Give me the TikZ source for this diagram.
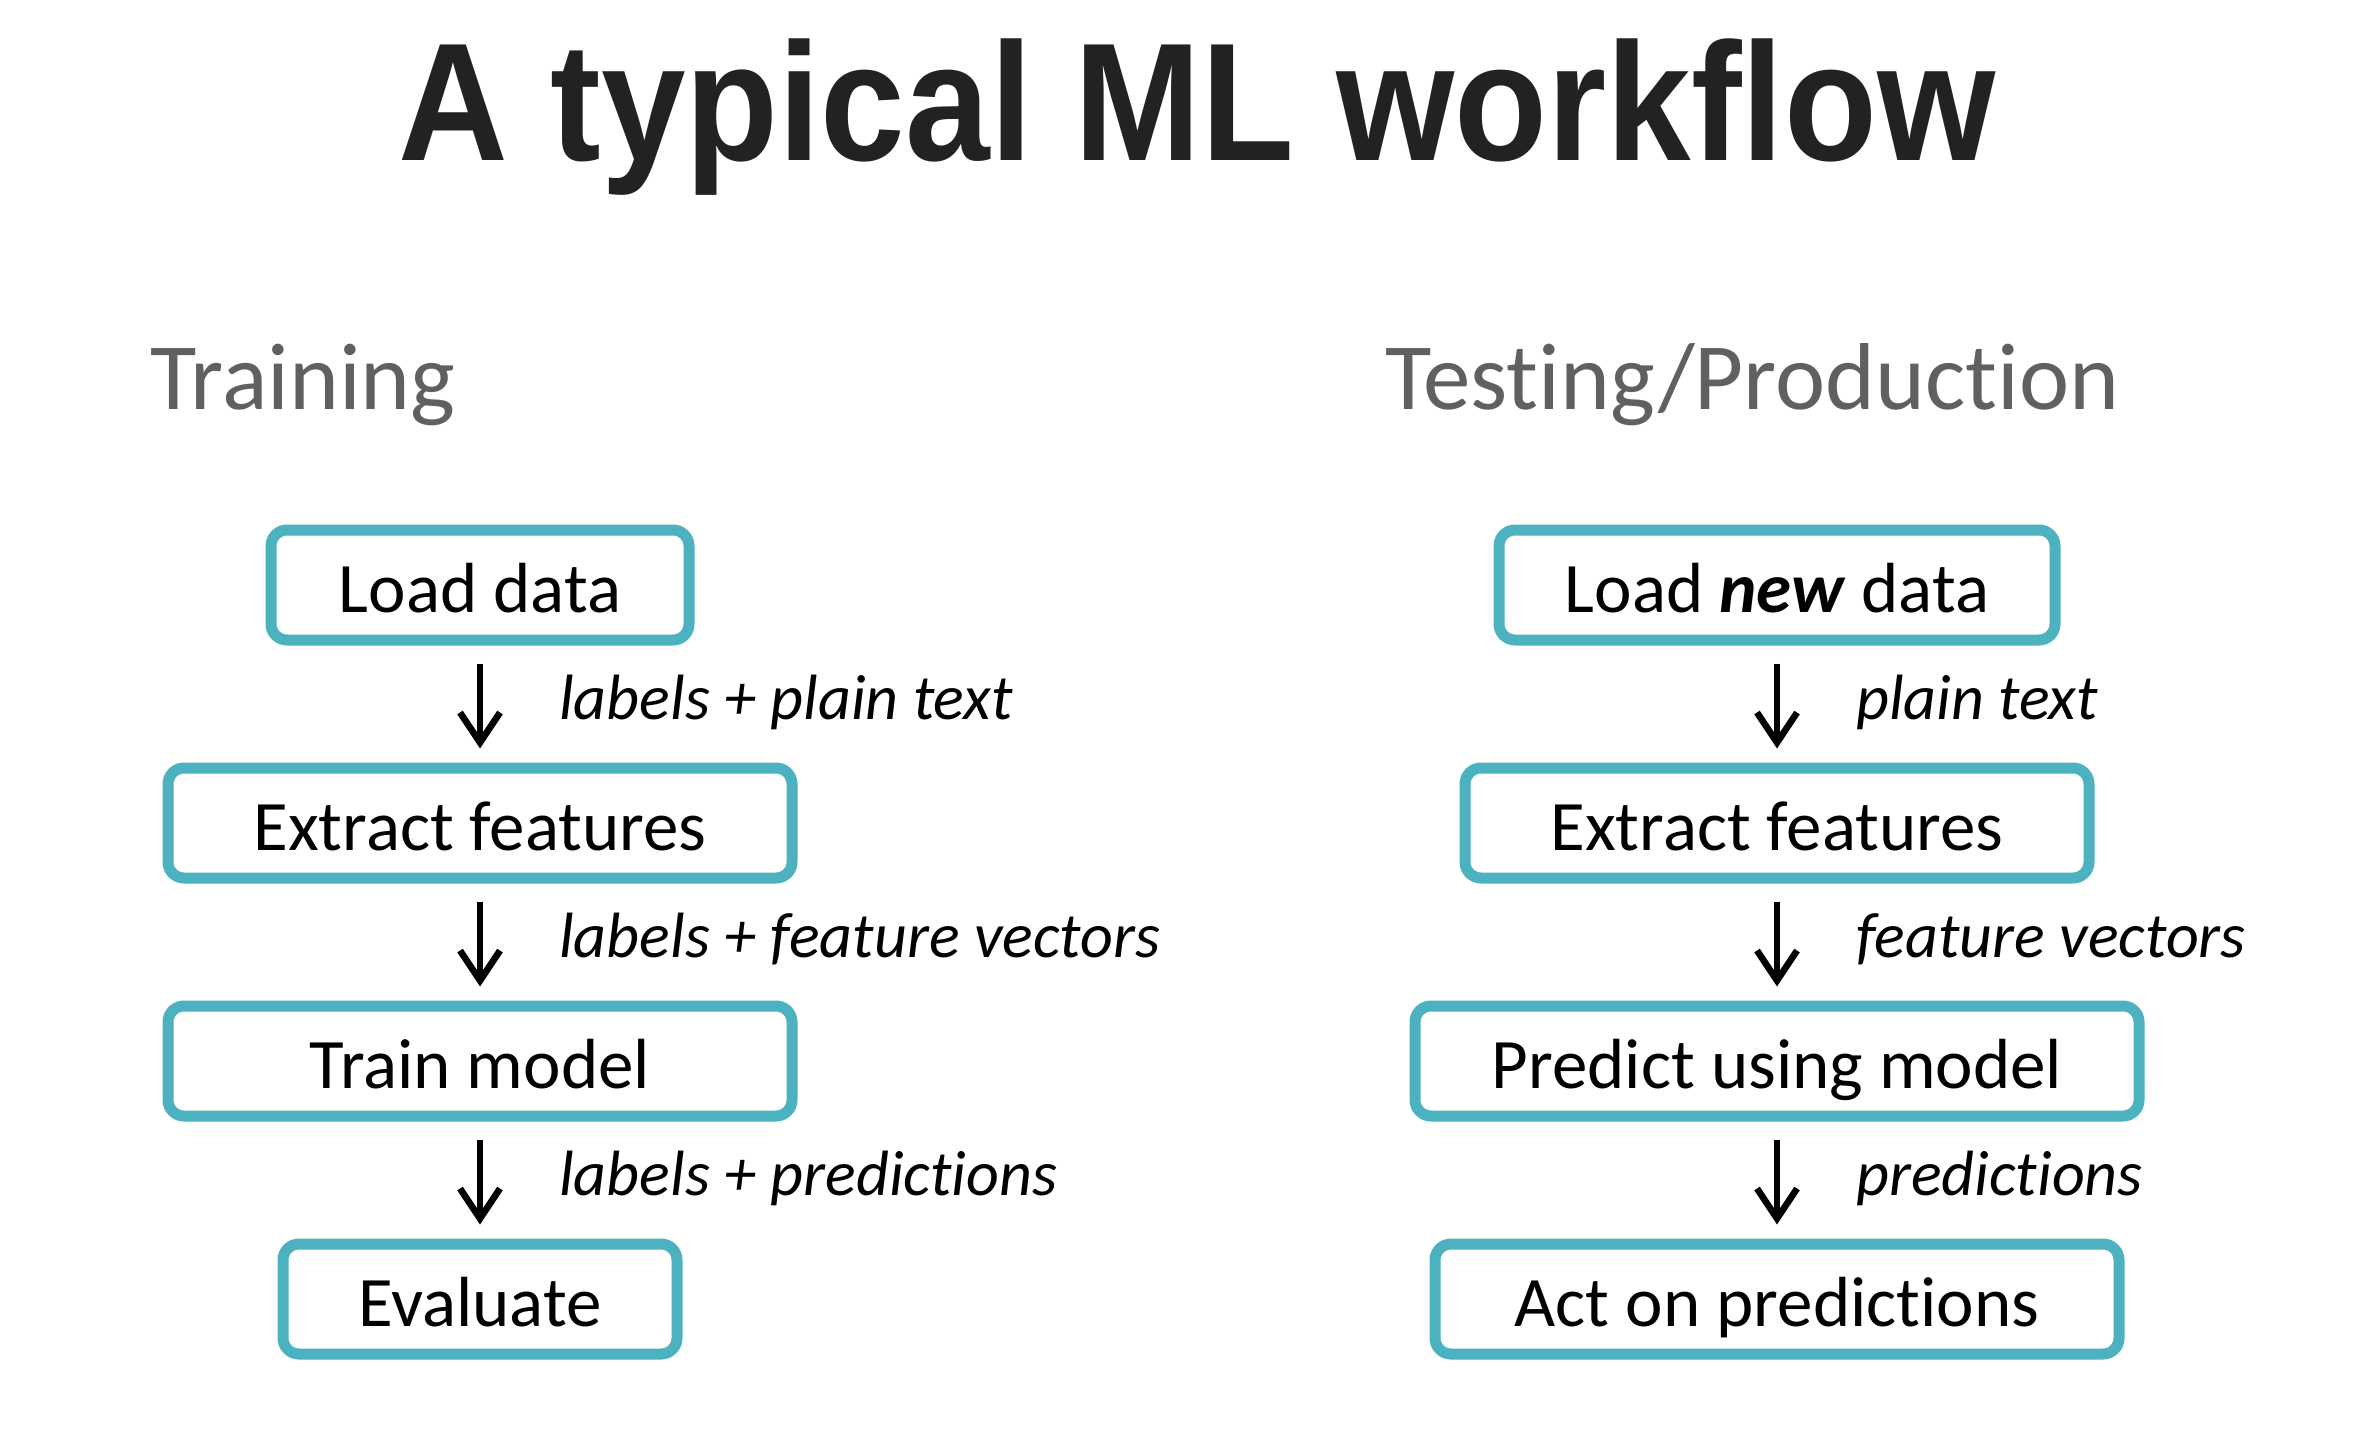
\documentclass[tikz,border=0pt]{standalone}
\usepackage{fontspec}
\setmainfont{Carlito}[Ligatures=NoCommon]
\newfontfamily\titlefont{Liberation Sans}
\usepackage{xcolor}
\usepackage{graphicx}
\usepackage{tikz}
\usetikzlibrary{arrows.meta,positioning}
\definecolor{mlTeal}{HTML}{4DB2C0}
\definecolor{mlInk}{HTML}{222222}
\definecolor{mlGray}{HTML}{606060}

\begin{document}
\begin{tikzpicture}[x=0.5pt,y=-0.5pt,
 stage/.style={rectangle,rounded corners=8pt,draw=mlTeal,line width=5.5pt,
   minimum height=55pt,inner sep=0pt,text height=34.8pt,text depth=7.8pt,
   font=\fontsize{35.5}{40}\selectfont},
 flow/.style={-{Straight Barb[length=15pt,width=20pt]},line width=3.3pt,
   shorten <=9pt,shorten >=7pt},
 note/.style={inner sep=0pt,anchor=base west,xshift=38pt,yshift=-7.5pt,
   font=\fontsize{32}{38}\selectfont\itshape},
 heading/.style={anchor=base west,inner sep=0pt,text=mlGray,
   font=\fontsize{47.5}{56}\selectfont},
 node distance=58.5pt]
\useasboundingbox (0,0) rectangle (2360,1444);
\node[anchor=base,inner sep=0pt,text=mlInk,font=\fontsize{84}{96}\selectfont\titlefont\bfseries]
  (title) at (1197,161) {\scalebox{0.905}[1]{A typical ML workflow}};
\node[heading] (train) at (150,409) {Training};
\node[heading] (test) at (1385,409) {Testing/Production};
% training
\node[stage,minimum width=209pt] (load) at (480,585) {Load data};
\node[stage,minimum width=312pt,below=of load] (extract) {Extract features};
\node[stage,minimum width=312pt,below=of extract] (fit) {Train model};
\node[stage,minimum width=197pt,below=of fit] (eval) {Evaluate};
\draw[flow] (load)--node[note]{labels + plain text}(extract);
\draw[flow] (extract)--node[note]{labels + feature vectors}(fit);
\draw[flow] (fit)--node[note]{labels + predictions}(eval);
% testing / production
\node[stage,minimum width=278pt] (loadnew) at (1777,585) {Load \textbf{\textit{new}} data};
\node[stage,minimum width=312pt,below=of loadnew] (extractnew) {Extract features};
\node[stage,minimum width=362pt,below=of extractnew] (predict) {Predict using model};
\node[stage,minimum width=342pt,below=of predict] (act) {Act on predictions};
\draw[flow] (loadnew)--node[note]{plain text}(extractnew);
\draw[flow] (extractnew)--node[note]{feature vectors}(predict);
\draw[flow] (predict)--node[note]{predictions}(act);
\end{tikzpicture}
\end{document}
